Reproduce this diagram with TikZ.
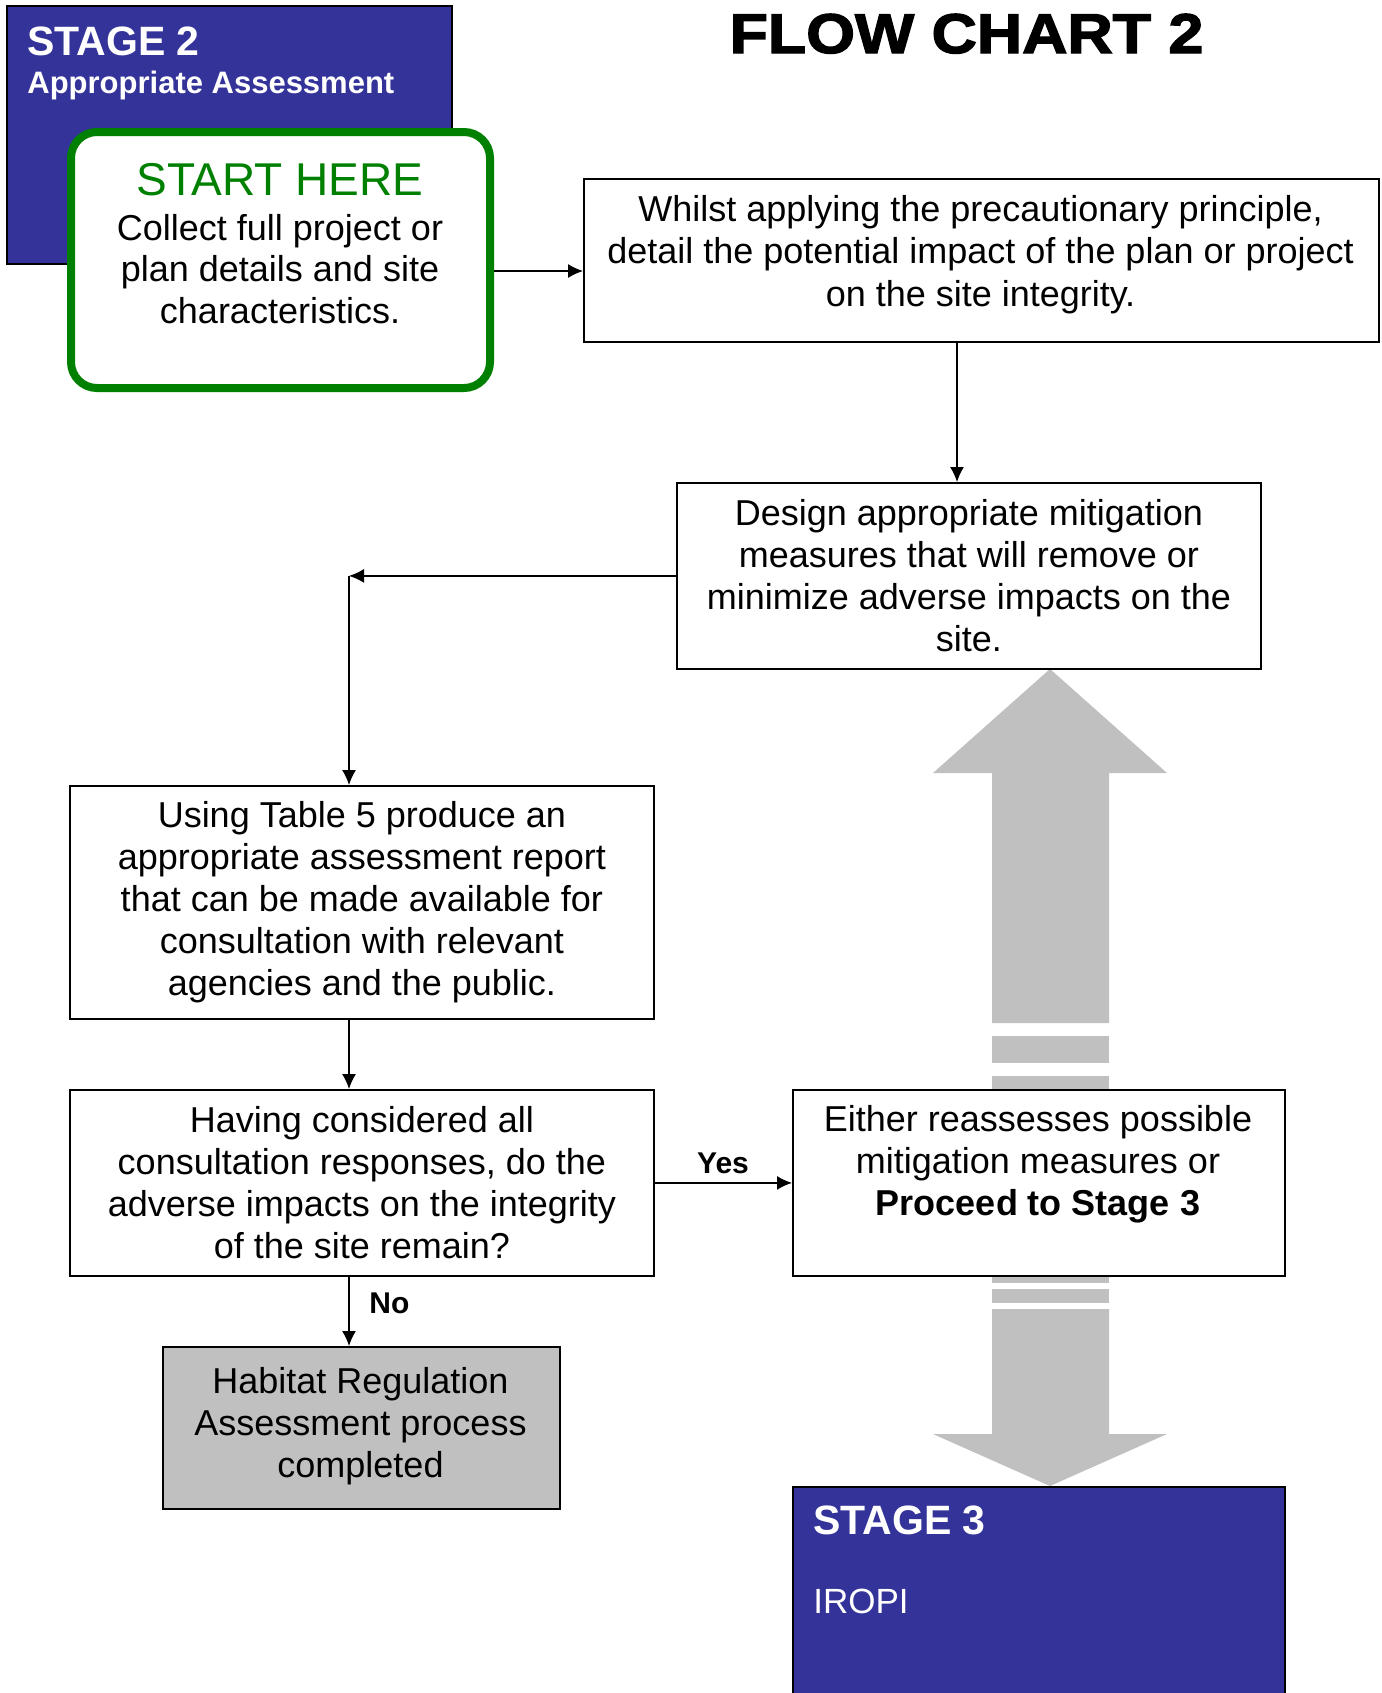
\documentclass[tikz,border=0pt]{standalone}
\usepackage{fontspec}
\setmainfont{Liberation Sans}
\newfontfamily\heavyfont{Liberation Sans}[BoldFeatures={FakeBold=2.5,FakeStretch=1.12}]
\usetikzlibrary{arrows.meta}
\definecolor{stageblue}{RGB}{51,51,153}
\definecolor{startgreen}{RGB}{0,128,0}
\definecolor{arrowgray}{RGB}{192,192,192}
\newcommand\bodyfs{\fontsize{18}{21}\selectfont}
\begin{document}
\begin{tikzpicture}[x=0.5pt,y=-0.5pt,
  box/.style={draw=black, line width=0.9pt, fill=white, inner sep=0pt, anchor=north west, align=center, font=\bodyfs},
  boxtext/.style={anchor=north, align=center, inner sep=0pt, font=\bodyfs},
  arr/.style={line width=0.7pt, -{Latex[length=7.5pt,width=7pt]}},
  lbl/.style={font=\fontsize{15}{18}\selectfont\bfseries, inner sep=0pt, anchor=base},
  stagebox/.style={draw=black, line width=0.8pt, fill=stageblue, inner sep=0pt, anchor=north west},
  stagetitle/.style={anchor=base west, text=white, inner sep=0pt, font=\fontsize{20.5}{24}\selectfont\bfseries},
  bigarrow/.style={fill=arrowgray, draw=none}]
\useasboundingbox (0,0) rectangle (1382,1693);
\fill[white] (0,0) rectangle (1382,1693);

% title
\node[anchor=base, inner sep=0pt, font=\heavyfont\bfseries\fontsize{28}{32}\selectfont] (title) at (966.5,53) {FLOW CHART 2};

% big gray arrows
\fill[bigarrow] (1050,669) -- (1167,773) -- (1109,773) -- (1109,1023) -- (992,1023) -- (992,773) -- (933,773) -- cycle;
\fill[bigarrow] (992,1036) rectangle (1109,1063);
\fill[bigarrow] (992,1076) rectangle (1109,1089);
\fill[bigarrow] (992,1276) rectangle (1109,1283);
\fill[bigarrow] (992,1289) rectangle (1109,1303);
\fill[bigarrow] (992,1309) -- (1109,1309) -- (1109,1434) -- (1167,1434) -- (1050,1486) -- (933,1434) -- (992,1434) -- cycle;

% stage 2
\node[stagebox, minimum width=222.5pt, minimum height=129pt] (stage2) at (6,5) {};
\node[stagetitle] (stage2title) at (27,55) {STAGE 2};
\node[anchor=base west, text=white, inner sep=0pt, font=\fontsize{15.5}{18}\selectfont\bfseries] (stage2sub) at (27,93) {Appropriate Assessment};

% start
\node[draw=startgreen, line width=4pt, rounded corners=13pt, fill=white, inner sep=0pt, anchor=north west, minimum width=209.5pt, minimum height=128pt] (start) at (67,128) {};
\node[anchor=base, text=startgreen, inner sep=0pt, font=\fontsize{23}{26}\selectfont] (starttitle) at (280,195) {START HERE};
\node[anchor=north, align=center, inner sep=0pt, font=\fontsize{18}{20.75}\selectfont] (startbody) at (280,214) {Collect full project or\\plan details and site\\characteristics.};

% boxes
\node[box, minimum width=397.5pt, minimum height=81.5pt] (whilst) at (583,178) {};
\node[boxtext, font=\fontsize{18}{21.25}\selectfont] (whilsttext) at (980.5,195) {Whilst applying the precautionary principle,\\detail the potential impact of the plan or project\\on the site integrity.};
\node[box, minimum width=292pt, minimum height=93pt] (design) at (676,482) {Design appropriate mitigation\\measures that will remove or\\minimize adverse impacts on the\\site.};
\node[box, minimum width=292pt, minimum height=116.5pt] (using) at (69,785) {Using Table 5 produce an\\appropriate assessment report\\that can be made available for\\consultation with relevant\\agencies and the public.};
\node[box, minimum width=292pt, minimum height=93pt] (having) at (69,1089) {Having considered all\\consultation responses, do the\\adverse impacts on the integrity\\of the site remain?};
\node[box, minimum width=246pt, minimum height=93pt] (either) at (792,1089) {};
\node[boxtext] (eithertext) at (1038,1105) {Either reassesses possible\\mitigation measures or\\\textbf{Proceed to Stage 3}};
\node[box, fill=arrowgray, minimum width=198.5pt, minimum height=81pt] (habitat) at (162,1346) {};
\node[boxtext] (habitattext) at (360.5,1367) {Habitat Regulation\\Assessment process\\completed};

% stage 3
\node[stagebox, minimum width=246pt, minimum height=117pt] (stage3) at (792,1486) {};
\node[stagetitle] (stage3title) at (813,1534) {STAGE 3};
\node[anchor=base west, text=white, inner sep=0pt, font=\fontsize{17.5}{21}\selectfont] (stage3sub) at (813,1613) {IROPI};

% connectors
\coordinate (yS) at (0,271);
\coordinate (xA) at (957,0);
\coordinate (xL) at (349,0);
\draw[arr] (start.east |- yS) -- (whilst.west |- yS);
\draw[arr] (whilst.south -| xA) -- (design.north -| xA);
\coordinate (corner) at (design.west -| xL);
\draw[arr] (design.west) -- (corner);
\draw[arr] (corner) -- (using.north -| xL);
\draw[arr] (using.south -| xL) -- (having.north -| xL);
\draw[arr] (having.east) -- (either.west);
\node[lbl] (yes) at (723,1173) {Yes};
\draw[arr] (having.south -| xL) -- (habitat.north -| xL);
\node[lbl, anchor=base west] (no) at (369,1313) {No};
\end{tikzpicture}
\end{document}
